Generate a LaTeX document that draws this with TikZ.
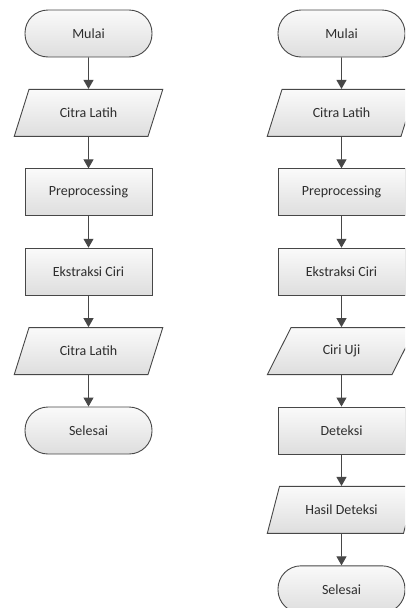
\documentclass[tikz,border=0pt]{standalone}
\usepackage{fontspec}
\setmainfont{Carlito}
\usetikzlibrary{positioning,shapes.geometric,arrows.meta}

\definecolor{edge}{HTML}{474747}
\definecolor{ink}{HTML}{2E2E2E}

\tikzset{
  box/.style={draw=edge,line width=.9pt,top color=white!98!black,bottom color=white!87!black,
    text=ink,minimum width=127pt,minimum height=47pt,inner sep=0pt,font=\fontsize{14}{16}\selectfont},
  startstop/.style={box,rectangle,rounded corners=23pt},
  process/.style={box,rectangle},
  io/.style={box,trapezium,trapezium left angle=54,trapezium right angle=126,
    trapezium stretches=true,minimum width=149pt},
  arrow/.style={draw=edge,line width=.9pt,-{Triangle[length=9pt,width=10pt]}}
}

\begin{document}
\begin{tikzpicture}[x=1pt,y=-1pt,node distance=31.5pt]
\useasboundingbox (0,0) rectangle (405,608);
\clip (0,0) rectangle (405,608);
% pelatihan
\node[startstop] (mulaiA) at (88.5,33.5) {Mulai};
\node[io,below=of mulaiA] (citraA) {Citra Latih};
\node[process,below=of citraA] (preA) {Preprocessing};
\node[process,below=of preA] (ekstA) {Ekstraksi Ciri};
\node[io,below=of ekstA] (outA) {Citra Latih};
\node[startstop,below=of outA] (selesaiA) {Selesai};
\draw[arrow] (mulaiA)--(citraA);
\draw[arrow] (citraA)--(preA);
\draw[arrow] (preA)--(ekstA);
\draw[arrow] (ekstA)--(outA);
\draw[arrow] (outA)--(selesaiA);
% pengujian
\node[startstop] (mulaiB) at (341.5,33.5) {Mulai};
\node[io,below=of mulaiB] (citraB) {Citra Latih};
\node[process,below=of citraB] (preB) {Preprocessing};
\node[process,below=of preB] (ekstB) {Ekstraksi Ciri};
\node[io,below=of ekstB] (ciriB) {Ciri Uji};
\node[process,below=of ciriB] (detB) {Deteksi};
\node[io,below=of detB] (hasilB) {Hasil Deteksi};
\node[startstop,below=of hasilB] (selesaiB) {Selesai};
\draw[arrow] (mulaiB)--(citraB);
\draw[arrow] (citraB)--(preB);
\draw[arrow] (preB)--(ekstB);
\draw[arrow] (ekstB)--(ciriB);
\draw[arrow] (ciriB)--(detB);
\draw[arrow] (detB)--(hasilB);
\draw[arrow] (hasilB)--(selesaiB);
\end{tikzpicture}
\end{document}
